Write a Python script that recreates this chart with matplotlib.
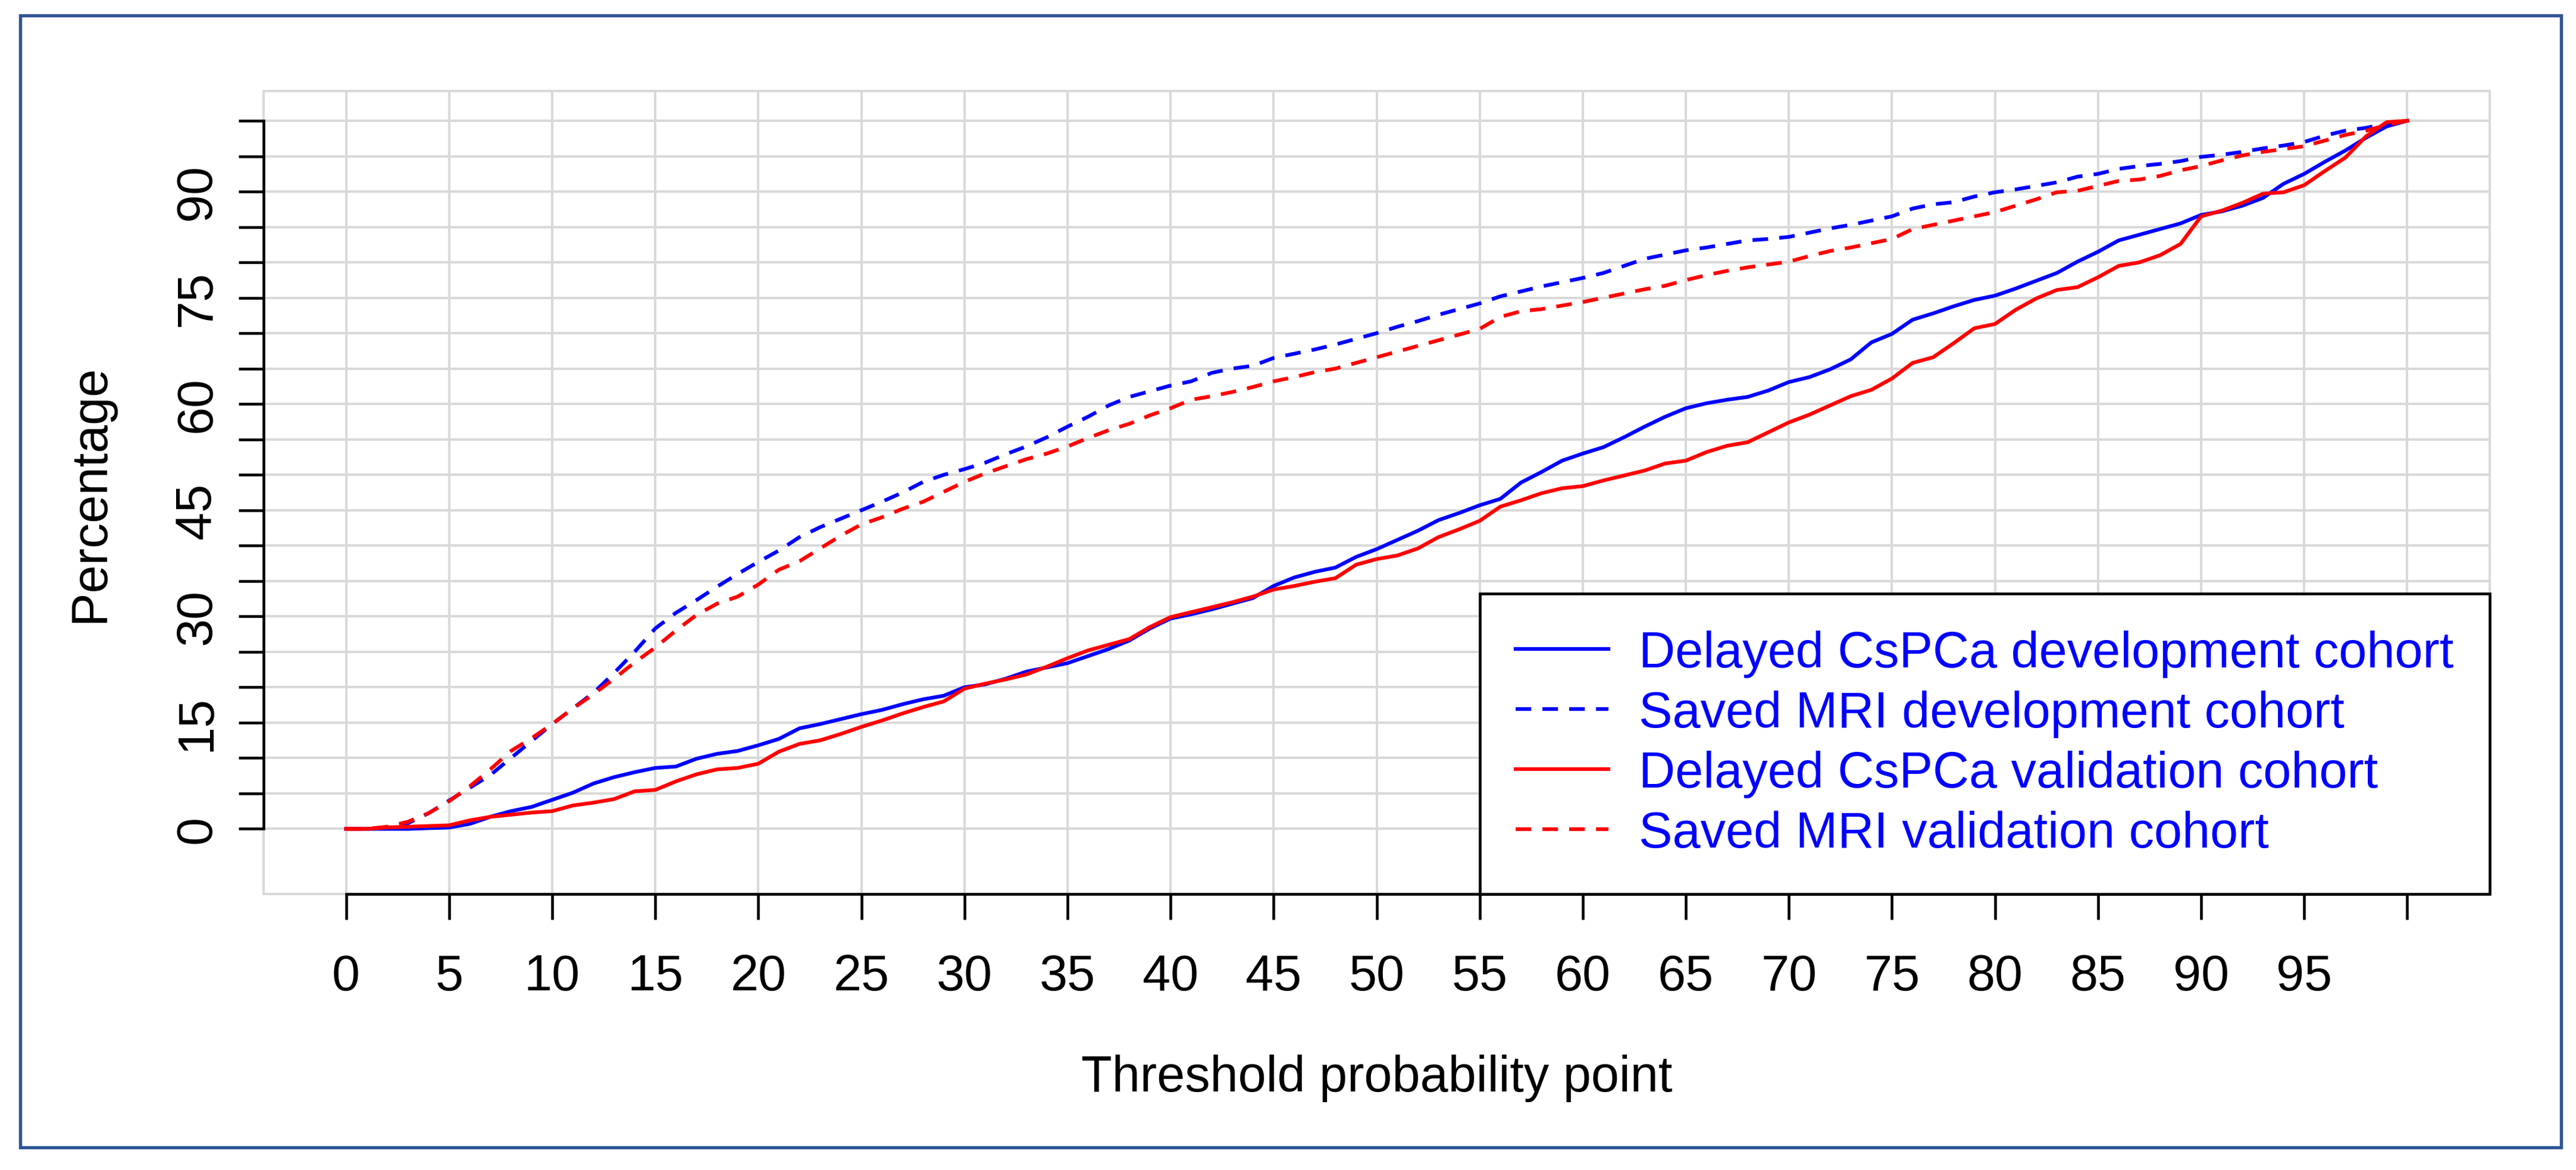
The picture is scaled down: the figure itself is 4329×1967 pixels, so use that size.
import matplotlib.pyplot as plt
from matplotlib.patches import Rectangle

plt.rcParams['font.family'] = ['Liberation Sans', 'DejaVu Sans']

# threshold probability points (x) and cumulative percentages
thresholds = list(range(0, 101))

delayed_dev = [0, 0, 0, 0, 0.1, 0.2, 0.7, 1.7, 2.5, 3.1,
               4.1, 5.1, 6.4, 7.3, 8.0, 8.6, 8.8, 9.9, 10.6, 11.0,
               11.8, 12.7, 14.2, 14.8, 15.5, 16.2, 16.8, 17.6, 18.3, 18.8,
               20.0, 20.4, 21.2, 22.2, 22.8, 23.4, 24.4, 25.4, 26.6, 28.3,
               29.7, 30.3, 31.0, 31.8, 32.6, 34.3, 35.5, 36.3, 36.9, 38.4,
               39.5, 40.8, 42.1, 43.6, 44.6, 45.7, 46.6, 48.9, 50.4, 52.0,
               53.0, 53.9, 55.3, 56.8, 58.2, 59.4, 60.1, 60.6, 61.0, 61.9,
               63.1, 63.8, 64.9, 66.3, 68.7, 69.9, 71.9, 72.8, 73.8, 74.7,
               75.3, 76.3, 77.4, 78.5, 80.1, 81.5, 83.1, 83.9, 84.7, 85.5,
               86.7, 87.2, 88.0, 89.1, 91.1, 92.5, 94.2, 95.8, 97.6, 99.2,
               100]

saved_dev = [0, 0, 0.2, 0.8, 2.2, 4.0, 5.8, 7.6, 10.0, 12.4,
             14.8, 17.0, 19.2, 22.0, 25.0, 28.3, 30.5, 32.3, 34.2, 36.0,
             37.7, 39.3, 41.2, 42.6, 43.8, 45.0, 46.2, 47.5, 49.0, 50.0,
             50.8, 51.7, 52.9, 54.0, 55.3, 56.8, 58.2, 59.8, 61.0, 61.8,
             62.6, 63.2, 64.4, 65.0, 65.4, 66.5, 67.1, 67.7, 68.4, 69.2,
             70.0, 70.9, 71.7, 72.6, 73.4, 74.2, 75.2, 75.9, 76.6, 77.2,
             77.8, 78.5, 79.5, 80.5, 81.1, 81.7, 82.1, 82.6, 83.1, 83.3,
             83.6, 84.2, 84.8, 85.3, 85.9, 86.5, 87.6, 88.2, 88.5, 89.3,
             89.9, 90.3, 90.8, 91.3, 92.1, 92.5, 93.2, 93.6, 93.9, 94.3,
             94.9, 95.2, 95.6, 96.1, 96.5, 97.0, 97.9, 98.6, 99.0, 99.6,
             100]

delayed_val = [0, 0, 0.2, 0.3, 0.4, 0.5, 1.2, 1.7, 2.0, 2.3,
               2.5, 3.3, 3.7, 4.2, 5.3, 5.5, 6.7, 7.7, 8.4, 8.6,
               9.2, 10.9, 12.0, 12.5, 13.4, 14.4, 15.3, 16.3, 17.2, 18.0,
               19.8, 20.5, 21.1, 21.8, 22.9, 24.1, 25.2, 26.0, 26.8, 28.5,
               29.9, 30.6, 31.3, 32.0, 32.8, 33.8, 34.3, 34.9, 35.4, 37.3,
               38.1, 38.6, 39.6, 41.2, 42.3, 43.5, 45.5, 46.4, 47.4, 48.1,
               48.4, 49.2, 49.9, 50.6, 51.6, 52.0, 53.2, 54.1, 54.6, 56.0,
               57.4, 58.5, 59.8, 61.1, 62.0, 63.6, 65.8, 66.6, 68.6, 70.7,
               71.3, 73.3, 74.9, 76.1, 76.5, 77.9, 79.5, 80.0, 81.0, 82.6,
               86.5, 87.3, 88.4, 89.7, 89.9, 90.9, 92.9, 94.8, 97.8, 99.8,
               100]

saved_val = [0, 0, 0.3, 1.0, 2.2, 3.9, 6.0, 8.4, 11.0, 12.8,
             14.8, 17.0, 19.0, 21.2, 23.5, 25.6, 28.0, 30.2, 31.8, 32.8,
             34.5, 36.6, 37.8, 39.6, 41.4, 43.0, 44.0, 45.2, 46.2, 47.6,
             49.0, 50.2, 51.2, 52.2, 53.0, 54.0, 55.2, 56.3, 57.2, 58.4,
             59.4, 60.6, 61.1, 61.7, 62.4, 63.2, 63.8, 64.5, 65.0, 65.8,
             66.6, 67.4, 68.2, 69.0, 69.8, 70.6, 72.3, 73.1, 73.4, 73.9,
             74.4, 75.0, 75.6, 76.2, 76.7, 77.5, 78.2, 78.8, 79.3, 79.7,
             80.1, 80.9, 81.6, 82.1, 82.7, 83.3, 84.7, 85.3, 85.9, 86.5,
             87.1, 88.0, 88.9, 89.9, 90.1, 90.8, 91.5, 91.7, 92.2, 93.0,
             93.6, 94.4, 95.1, 95.6, 96.0, 96.4, 97.2, 98.0, 98.6, 99.4,
             100]

series_labels = ['Delayed CsPCa development cohort', 'Saved MRI development cohort',
                 'Delayed CsPCa validation cohort', 'Saved MRI validation cohort']

x_ticks = list(range(0, 101, 5))
x_tick_labels = [str(v) if v < 100 else '' for v in x_ticks]
y_ticks = list(range(0, 101, 5))
y_tick_labels = [str(v) if v % 15 == 0 else '' for v in y_ticks]

fs = 20.3
W, H = 4329, 1968
fig = plt.figure(figsize=(W / 300, H / 300), dpi=300)
ax = fig.add_axes([443 / W, 1 - 1504 / H, (4184 - 443) / W, (1504 - 154) / H])

lw = 1.5
dash = (4.2, 3.0)
ax.plot(thresholds, delayed_dev, color='blue', lw=lw, label=series_labels[0])
ax.plot(thresholds, saved_dev, color='blue', lw=lw, ls='--', dashes=dash, label=series_labels[1])
ax.plot(thresholds, delayed_val, color='red', lw=lw, label=series_labels[2])
ax.plot(thresholds, saved_val, color='red', lw=lw, ls='--', dashes=dash, label=series_labels[3])

ax.set_xlim(-4, 104)
ax.set_ylim(-9.2, 104.2)
ax.set_xticks(x_ticks)
ax.set_xticklabels(x_tick_labels, fontsize=fs)
ax.set_yticks(y_ticks)
ax.set_yticklabels(y_tick_labels, fontsize=fs, rotation=90, va='center')
ax.tick_params(axis='both', length=10.2, width=1.1, color='black', direction='out')
ax.tick_params(axis='x', pad=13.5)
ax.tick_params(axis='y', pad=7)

# light grey grid and plot-region box, black axes from 0 to 100
ax.grid(True, color='#d9d9d9', lw=0.95)
ax.set_axisbelow(True)
ax.add_patch(Rectangle((0, 0), 1, 1, transform=ax.transAxes, fill=False,
                       ec='#d9d9d9', lw=0.95, clip_on=False, zorder=0.5))
for side in ['top', 'right']:
    ax.spines[side].set_visible(False)
for side in ['left', 'bottom']:
    ax.spines[side].set_color('black')
    ax.spines[side].set_linewidth(1.1)
    ax.spines[side].set_bounds(0, 100)

ax.set_xlabel('Threshold probability point', fontsize=fs)
ax.xaxis.set_label_coords(0.5, -0.199)
ax.set_ylabel('Percentage', fontsize=fs)
ax.yaxis.set_label_coords(-0.067, 0.5)

leg = ax.legend(loc='lower right', bbox_to_anchor=(1, 0), borderaxespad=0, fontsize=fs,
                labelcolor='blue', fancybox=False, edgecolor='black', framealpha=1,
                handlelength=1.84, handletextpad=0.6, borderpad=0.72, labelspacing=0.25)
leg.get_frame().set_linewidth(1.1)

# picture border
fig.add_artist(Rectangle((34 / W, 1 - 1930 / H), (4304 - 34) / W, (1930 - 27) / H,
                         transform=fig.transFigure, fill=False, ec='#2f5597', lw=1.3))

fig.savefig('out.png', dpi=300)
